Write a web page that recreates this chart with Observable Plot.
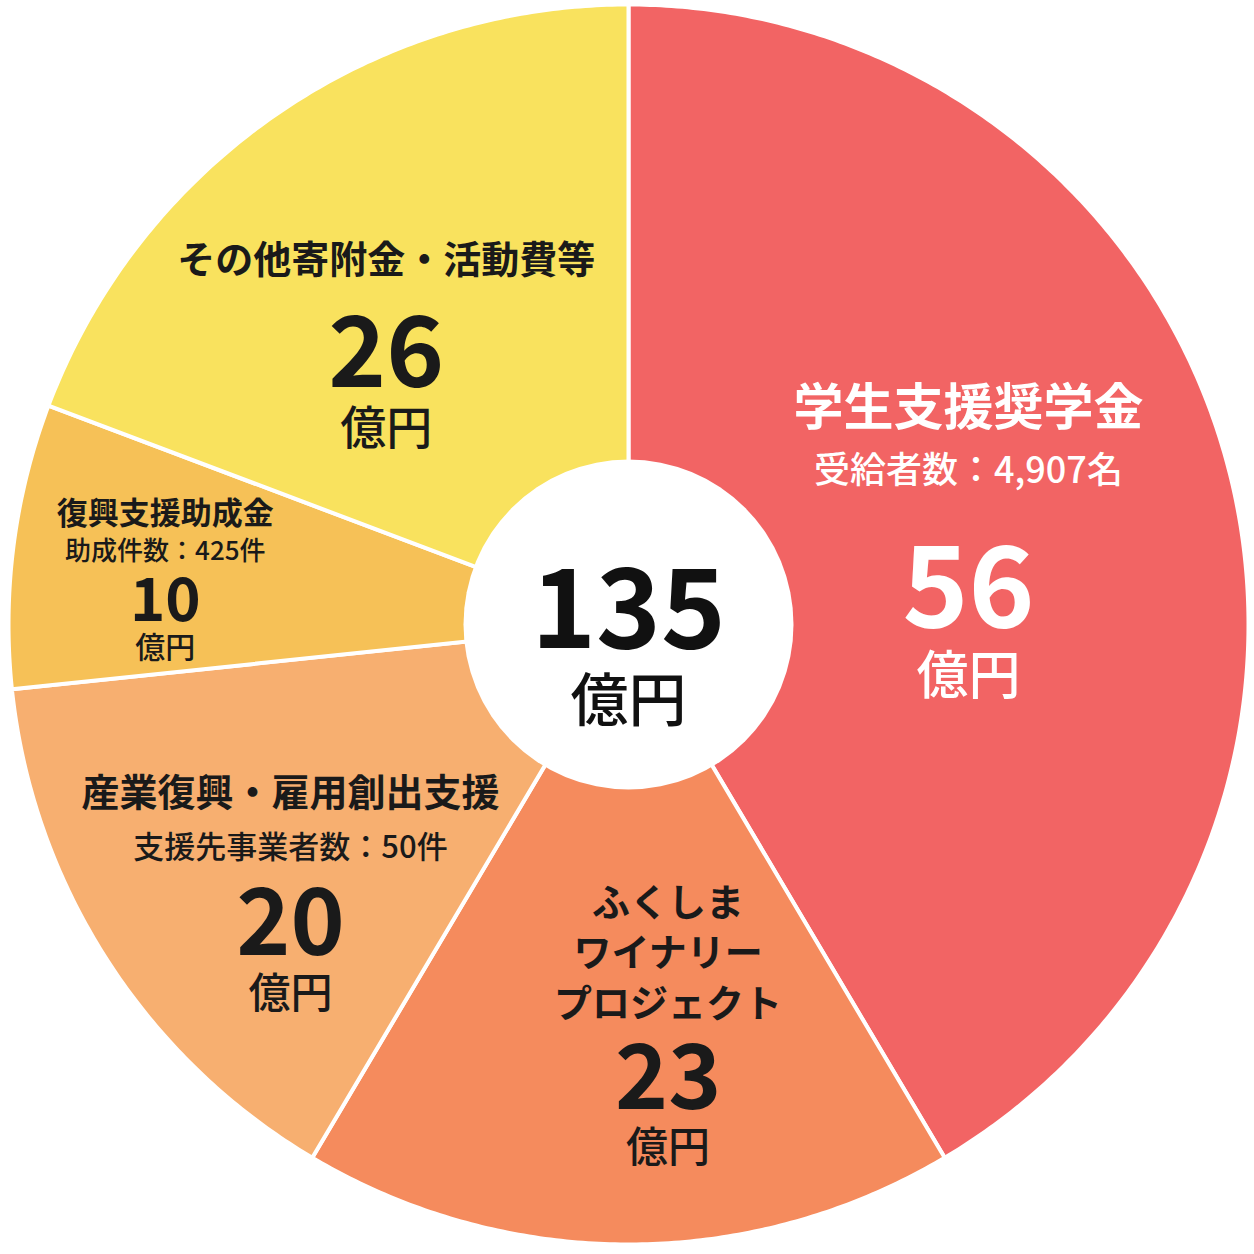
<!DOCTYPE html>
<html><head><meta charset="utf-8">
<script src="https://cdn.jsdelivr.net/npm/d3@7"></script>
<script src="https://cdn.jsdelivr.net/npm/@observablehq/plot@0.6"></script>
<style>body{margin:0;background:#fff}</style>
</head><body><div id="chart"></div>
<script>
// ---- data ----
const categories = ["学生支援奨学金", "ふくしまワイナリープロジェクト", "産業復興・雇用創出支援", "復興支援助成金", "その他寄附金・活動費等"];
const titleLines = [["学生支援奨学金"], ["ふくしま", "ワイナリー", "プロジェクト"], ["産業復興・雇用創出支援"], ["復興支援助成金"], ["その他寄附金・活動費等"]];
const subtitles = ["受給者数：4,907名", "", "支援先事業者数：50件", "助成件数：425件", ""];
const values = [56, 23, 20, 10, 26];
const unit = "億円";
const colors = ["#F26464", "#F58B5D", "#F7AF70", "#F6C157", "#F9E25E"];

// ---- layout (not data) ----
const W = 1254, H = 1254;
const R = 620;                   // px per data unit (outer radius)
const labelT = [0.565, 0.419, 0.331, 0.33, 0.394];  // position along slice angle
const labelK = [0.551, 0.738, 0.730, 0.748, 0.584]; // fraction of radius
const styles = [
  {ink: "#ffffff", titleSize: 50, titleDy: [-182], subSize: 36, subDy: -120, valueSize: 112, unitSize: 52, unitDy: 86},
  {ink: "#1a1a1a", titleSize: 38, titleDy: [-177, -127, -76], subSize: 0, subDy: 0, valueSize: 90, unitSize: 42, unitDy: 68},
  {ink: "#1a1a1a", titleSize: 38, titleDy: [-132], subSize: 31, subDy: -77, valueSize: 92, unitSize: 42, unitDy: 69},
  {ink: "#1a1a1a", titleSize: 31, titleDy: [-88], subSize: 26, subDy: -50, valueSize: 60, unitSize: 30, unitDy: 47},
  {ink: "#1a1a1a", titleSize: 38, titleDy: [-95], subSize: 0, subDy: 0, valueSize: 98, unitSize: 46, unitDy: 74}
];
const FONT = "'Noto Sans CJK JP', 'Noto Sans', sans-serif";

// ---- build geometry from data ----
const table = categories.map((c, i) => ({name: c, value: values[i], color: colors[i], i}));
const arcs = d3.pie().value(d => d.value).sort(null)(table);

const poly = [];
for (const a of arcs) {
  const n = Math.max(8, Math.ceil((a.endAngle - a.startAngle) / (Math.PI / 360)));
  poly.push({name: a.data.name, color: a.data.color, x: 0, y: 0});
  for (let k = 0; k <= n; k++) {
    const t = a.startAngle + (a.endAngle - a.startAngle) * k / n;
    poly.push({name: a.data.name, color: a.data.color, x: Math.sin(t), y: Math.cos(t)});
  }
  poly.push({name: a.data.name, color: a.data.color, x: 0, y: 0});
}

const boldRows = [], medRows = [];
arcs.forEach((a, i) => {
  const s = styles[i];
  const th = a.startAngle + (a.endAngle - a.startAngle) * labelT[i];
  const ax = labelK[i] * Math.sin(th), ay = labelK[i] * Math.cos(th);
  titleLines[i].forEach((t, j) => boldRows.push({x: ax, y: ay - s.titleDy[j] / R, text: t, size: s.titleSize, ink: s.ink}));
  if (subtitles[i]) medRows.push({x: ax, y: ay - s.subDy / R, text: subtitles[i], size: s.subSize, ink: s.ink});
  boldRows.push({x: ax, y: ay, text: String(a.data.value), size: s.valueSize, ink: s.ink});
  medRows.push({x: ax, y: ay - s.unitDy / R, text: unit, size: s.unitSize, ink: s.ink});
});
const total = d3.sum(values);
boldRows.push({x: 0, y: 12 / R, text: String(total), size: 110, ink: "#111111"});
medRows.push({x: 0, y: -78 / R, text: unit, size: 58, ink: "#111111"});

const chart = Plot.plot({
  width: W, height: H,
  marginLeft: 8, marginRight: 6, marginTop: 4, marginBottom: 10,
  x: {domain: [-1, 1], axis: null},
  y: {domain: [-1, 1], axis: null},
  color: {type: "identity"},
  style: {background: "#fff"},
  marks: [
    Plot.line(poly, {x: "x", y: "y", z: "name", fill: "color", stroke: "#ffffff", strokeWidth: 4, curve: "linear"}),
    Plot.dot([0], {x: () => 0, y: () => 0, r: 165, fill: "#ffffff", stroke: "none"}),
    Plot.text(boldRows, {x: "x", y: "y", text: "text", fontSize: "size", fill: "ink", fontWeight: 700, fontFamily: FONT}),
    Plot.text(medRows, {x: "x", y: "y", text: "text", fontSize: "size", fill: "ink", fontWeight: 500, fontFamily: FONT})
  ]
});
document.getElementById("chart").appendChild(chart);
</script>
</body></html>
